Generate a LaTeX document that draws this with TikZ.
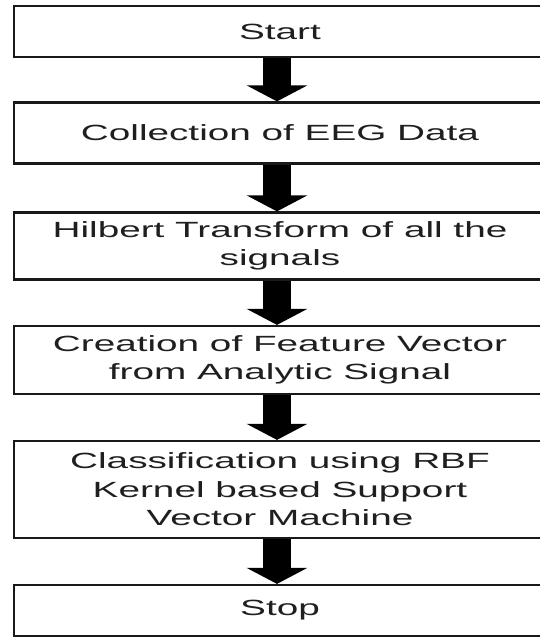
\documentclass[tikz,border=0pt]{standalone}
\usepackage{fontspec}
\newfontfamily\boxfont[FakeStretch=1.76]{Liberation Sans}
\usetikzlibrary{arrows.meta}
\begin{document}
\begin{tikzpicture}[x=1pt,y=-1pt,
  stepbox/.style={draw=black!90, line width=2.2pt, minimum width=532pt, inner sep=0pt,
    align=center, text=black!88, font=\boxfont\fontsize{22}{28.5}\selectfont},
  flowarrow/.style={line width=28pt, black, -{Triangle[width=60pt,length=16pt]}}]
\useasboundingbox (0,0) rectangle (540,638);
\fill[white] (0,0) rectangle (540,638);
\node[stepbox, minimum height=51pt] (s1) at (280,31.5) {Start};
\node[stepbox, minimum height=61pt] (s2) at (280,133) {Collection of EEG Data};
\node[stepbox, minimum height=67pt] (s3) at (280,246) {Hilbert Transform of all the\\signals};
\node[stepbox, minimum height=68pt] (s4) at (280,360) {Creation of Feature Vector\\from Analytic Signal};
\node[stepbox, minimum height=97pt] (s5) at (280,489.5) {Classification using RBF\\Kernel based Support\\Vector Machine};
\node[stepbox, minimum height=51pt] (s6) at (280,610.5) {Stop};
\foreach \a/\b in {s1/s2,s2/s3,s3/s4,s4/s5,s5/s6}
  \draw[flowarrow] ([xshift=-3pt]\a.south) -- ([xshift=-3pt]\b.north);
\end{tikzpicture}
\end{document}
